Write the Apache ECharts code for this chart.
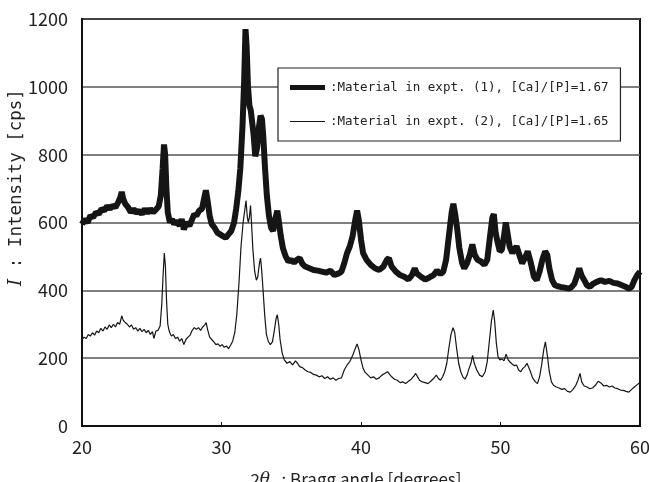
<!DOCTYPE html>
<html>
<head>
<meta charset="utf-8">
<script src="https://cdn.jsdelivr.net/npm/echarts@6/dist/echarts.min.js"></script>
<style>
  html, body { margin: 0; padding: 0; background: #fff; }
  #xrd { width: 649px; height: 482px; }
</style>
</head>
<body>
<div id="xrd"></div>
<script>
// 2θ [deg], intensity [cps]
const expt1 = [
  [20.0, 595], [20.2, 610], [20.4, 600], [20.6, 620], [20.8, 615], [21.0, 630], [21.2, 625], [21.4, 640],
  [21.6, 635], [21.8, 648], [22.0, 640], [22.2, 650], [22.4, 645], [22.6, 660], [22.75, 675], [22.85, 690],
  [22.95, 670], [23.1, 655], [23.3, 645], [23.5, 630], [23.7, 640], [23.9, 628], [24.1, 635], [24.3, 625],
  [24.5, 640], [24.7, 628], [24.9, 640], [25.1, 630], [25.3, 638], [25.5, 648], [25.65, 680], [25.78, 760],
  [25.88, 830], [25.96, 800], [26.05, 700], [26.15, 630], [26.3, 600], [26.45, 610], [26.6, 595], [26.8, 605],
  [27.0, 590], [27.15, 610], [27.3, 580], [27.5, 600], [27.7, 590], [27.9, 610], [28.05, 625], [28.2, 620],
  [28.4, 635], [28.6, 640], [28.75, 670], [28.88, 695], [29.0, 665], [29.15, 620], [29.3, 595], [29.5, 585],
  [29.7, 570], [29.9, 565], [30.1, 560], [30.3, 555], [30.5, 565], [30.7, 575], [30.9, 600], [31.05, 640],
  [31.2, 690], [31.35, 760], [31.5, 880], [31.62, 1010], [31.72, 1170], [31.8, 1120], [31.9, 1000], [32.0, 945],
  [32.1, 930], [32.2, 895], [32.3, 860], [32.42, 795], [32.55, 820], [32.68, 880], [32.8, 915], [32.9, 905],
  [33.0, 850], [33.12, 760], [33.25, 680], [33.4, 620], [33.55, 585], [33.7, 575], [33.85, 610], [34.0, 635],
  [34.12, 600], [34.25, 560], [34.4, 525], [34.6, 500], [34.8, 485], [35.0, 490], [35.2, 482], [35.4, 490],
  [35.6, 495], [35.8, 478], [36.0, 470], [36.3, 465], [36.6, 460], [36.9, 458], [37.2, 455], [37.5, 452],
  [37.8, 458], [38.1, 445], [38.4, 450], [38.6, 455], [38.8, 480], [39.0, 510], [39.2, 530], [39.4, 560],
  [39.6, 610], [39.72, 635], [39.85, 605], [40.0, 550], [40.15, 510], [40.4, 490], [40.7, 475], [41.0, 465],
  [41.3, 460], [41.6, 470], [41.85, 490], [42.0, 495], [42.2, 470], [42.5, 455], [42.8, 445], [43.1, 440],
  [43.4, 432], [43.65, 445], [43.85, 465], [44.0, 450], [44.3, 440], [44.6, 432], [44.9, 438], [45.2, 445],
  [45.45, 458], [45.7, 448], [45.9, 455], [46.1, 490], [46.3, 560], [46.5, 630], [46.62, 655], [46.75, 625],
  [46.9, 580], [47.05, 525], [47.25, 480], [47.4, 465], [47.6, 480], [47.8, 505], [47.98, 535], [48.15, 505],
  [48.35, 490], [48.6, 485], [48.85, 475], [49.05, 490], [49.25, 560], [49.42, 615], [49.52, 625], [49.65, 570],
  [49.8, 540], [49.95, 515], [50.1, 520], [50.25, 560], [50.38, 600], [50.5, 570], [50.65, 530], [50.85, 510],
  [51.0, 520], [51.15, 530], [51.35, 505], [51.55, 480], [51.75, 495], [51.95, 515], [52.15, 485], [52.4, 440],
  [52.6, 430], [52.8, 455], [53.0, 490], [53.2, 515], [53.35, 505], [53.5, 465], [53.7, 430], [53.9, 415],
  [54.1, 412], [54.3, 410], [54.6, 408], [54.9, 405], [55.1, 410], [55.3, 420], [55.5, 445], [55.65, 465],
  [55.8, 445], [56.0, 430], [56.2, 415], [56.4, 410], [56.6, 418], [56.9, 425], [57.2, 430], [57.5, 425],
  [57.8, 428], [58.1, 422], [58.4, 420], [58.7, 415], [59.0, 410], [59.2, 405], [59.4, 410], [59.6, 430],
  [59.8, 445], [60.0, 455]
];

const expt2 = [
  [20.0, 255], [20.15, 262], [20.3, 258], [20.45, 270], [20.6, 265], [20.75, 275], [20.9, 268], [21.05, 280],
  [21.2, 275], [21.35, 288], [21.5, 280], [21.65, 292], [21.8, 285], [21.95, 298], [22.1, 290], [22.25, 300],
  [22.4, 292], [22.55, 305], [22.7, 300], [22.85, 325], [22.95, 312], [23.1, 305], [23.25, 300], [23.4, 292],
  [23.55, 298], [23.7, 285], [23.85, 290], [24.0, 280], [24.15, 288], [24.3, 278], [24.45, 285], [24.6, 275],
  [24.75, 282], [24.9, 270], [25.05, 278], [25.15, 258], [25.3, 280], [25.45, 282], [25.6, 295], [25.72, 360],
  [25.82, 450], [25.9, 510], [25.98, 470], [26.06, 370], [26.15, 300], [26.25, 280], [26.4, 265], [26.55, 270],
  [26.7, 258], [26.85, 262], [27.0, 250], [27.15, 258], [27.3, 240], [27.45, 255], [27.6, 262], [27.75, 268],
  [27.9, 282], [28.05, 290], [28.2, 285], [28.35, 290], [28.5, 282], [28.65, 292], [28.8, 298], [28.9, 305],
  [29.0, 285], [29.15, 262], [29.3, 255], [29.45, 248], [29.6, 240], [29.75, 242], [29.9, 235], [30.05, 240],
  [30.2, 232], [30.35, 236], [30.5, 228], [30.65, 238], [30.8, 250], [30.95, 275], [31.1, 330], [31.25, 420],
  [31.4, 530], [31.55, 600], [31.68, 640], [31.76, 665], [31.84, 620], [31.92, 600], [32.0, 615], [32.08, 650],
  [32.15, 600], [32.25, 520], [32.38, 455], [32.5, 430], [32.6, 440], [32.72, 480], [32.8, 495], [32.88, 460],
  [32.98, 400], [33.1, 325], [33.22, 270], [33.35, 250], [33.5, 240], [33.65, 248], [33.8, 285], [33.92, 318],
  [34.0, 328], [34.1, 300], [34.2, 255], [34.35, 215], [34.5, 195], [34.7, 185], [34.9, 190], [35.1, 180],
  [35.3, 192], [35.45, 185], [35.6, 175], [35.8, 172], [36.0, 165], [36.2, 160], [36.4, 158], [36.6, 152],
  [36.8, 150], [37.0, 145], [37.2, 148], [37.4, 140], [37.6, 145], [37.8, 138], [38.0, 142], [38.2, 135],
  [38.4, 140], [38.6, 142], [38.8, 165], [39.0, 180], [39.2, 190], [39.4, 208], [39.58, 228], [39.72, 242],
  [39.85, 225], [40.0, 195], [40.15, 170], [40.3, 158], [40.5, 150], [40.7, 142], [40.9, 145], [41.1, 138],
  [41.3, 142], [41.5, 150], [41.7, 155], [41.9, 160], [42.05, 152], [42.2, 145], [42.4, 138], [42.6, 135],
  [42.8, 128], [43.0, 130], [43.2, 125], [43.4, 132], [43.6, 138], [43.8, 148], [43.92, 155], [44.05, 145],
  [44.2, 135], [44.4, 130], [44.6, 128], [44.8, 125], [45.0, 132], [45.2, 140], [45.4, 150], [45.55, 140],
  [45.7, 135], [45.85, 145], [46.0, 160], [46.15, 185], [46.3, 230], [46.45, 270], [46.6, 290], [46.72, 275],
  [46.85, 230], [47.0, 185], [47.15, 160], [47.3, 145], [47.45, 138], [47.6, 150], [47.75, 170], [47.88, 185],
  [48.0, 208], [48.12, 185], [48.3, 165], [48.5, 150], [48.7, 145], [48.9, 160], [49.05, 190], [49.2, 250],
  [49.35, 310], [49.48, 342], [49.58, 310], [49.7, 245], [49.82, 205], [49.95, 195], [50.1, 198], [50.25, 192],
  [50.4, 212], [50.55, 195], [50.7, 188], [50.85, 182], [51.0, 178], [51.15, 180], [51.3, 165], [51.45, 160],
  [51.6, 170], [51.75, 175], [51.9, 185], [52.0, 188], [52.15, 160], [52.3, 142], [52.5, 130], [52.65, 125],
  [52.8, 145], [52.95, 180], [53.1, 225], [53.22, 248], [53.35, 210], [53.5, 160], [53.65, 130], [53.8, 120],
  [54.0, 115], [54.2, 112], [54.4, 108], [54.6, 110], [54.8, 102], [55.0, 100], [55.2, 108], [55.4, 120],
  [55.55, 135], [55.7, 155], [55.82, 130], [56.0, 118], [56.2, 115], [56.4, 110], [56.6, 112], [56.8, 120],
  [57.0, 132], [57.1, 136], [57.25, 125], [57.4, 118], [57.6, 120], [57.8, 115], [58.0, 118], [58.2, 112],
  [58.4, 110], [58.6, 106], [58.8, 105], [59.0, 102], [59.2, 100], [59.4, 108], [59.6, 115], [59.8, 122],
  [60.0, 128]
];

const seriesNames = [
  ':Material in expt. (1), [Ca]/[P]=1.67',
  ':Material in expt. (2), [Ca]/[P]=1.65'
];

const FONT = '"Noto Sans CJK JP", "Noto Sans", sans-serif';
const MONO = '"DejaVu Sans Mono", "Liberation Mono", monospace';

const chart = echarts.init(document.getElementById('xrd'));

const option = {
  animation: false,
  backgroundColor: '#fff',
  textStyle: { fontFamily: FONT, color: '#222' },
  grid: {
    left: 82, right: 9, top: 19, bottom: 56,
    outerBoundsMode: 'none',
    containLabel: false,
    show: true, borderColor: '#111', borderWidth: 2
  },
  legend: {
    orient: 'vertical',
    left: 278,
    top: 68,
    padding: [13, 12, 13, 12],
    itemGap: 21,
    itemWidth: 35,
    itemHeight: 14,
    backgroundColor: '#fff',
    borderColor: '#222',
    borderWidth: 1.2,
    borderRadius: 0,
    textStyle: { fontFamily: MONO, fontSize: 12.5, color: '#222' },
    data: [
      { name: seriesNames[0], icon: 'path://M0,0H35V5H0Z' },
      { name: seriesNames[1], icon: 'path://M0,0H35V1.2H0Z' }
    ]
  },
  xAxis: {
    type: 'value',
    min: 20, max: 60, interval: 10,
    name: '{n|2}{t|θ}   : Bragg angle [degrees]',
    nameLocation: 'middle',
    nameGap: 45,
    nameMoveOverlap: false,
    nameTextStyle: {
      fontSize: 17,
      padding: [0, 10, 0, 0],
      rich: {
        n: { fontSize: 17, fontFamily: FONT, color: '#222' },
        t: { fontSize: 17, fontStyle: 'italic', fontFamily: 'DejaVu Serif', color: '#222' }
      }
    },
    axisLine: { lineStyle: { color: '#111', width: 2 } },
    axisTick: { inside: true, length: 4, lineStyle: { color: '#111' } },
    axisLabel: { fontSize: 18, margin: 12, color: '#222', formatter: v => String(v) },
    splitLine: { show: false }
  },
  yAxis: {
    type: 'value',
    min: 0, max: 1200, interval: 200,
    name: '{i|I}{s| : Intensity [cps]}',
    nameLocation: 'middle',
    nameGap: 57,
    nameMoveOverlap: false,
    nameRotate: 90,
    nameTextStyle: {
      fontSize: 17,
      padding: [0, 0, 0, 70],
      rich: {
        i: { fontSize: 18, fontStyle: 'italic', fontFamily: 'DejaVu Serif', color: '#222' },
        s: { fontSize: 17.5, fontFamily: MONO, color: '#222' }
      }
    },
    axisLine: { show: true, lineStyle: { color: '#111', width: 2 } },
    axisTick: { show: false },
    axisLabel: { fontSize: 18, margin: 14, color: '#222', formatter: v => String(v) },
    splitLine: { show: true, lineStyle: { color: '#555', width: 1.5 } }
  },
  series: [
    {
      name: seriesNames[0],
      type: 'line',
      data: expt1,
      symbol: 'none',
      lineStyle: { color: '#151515', width: 6 },
      itemStyle: { color: '#151515' },
      z: 3
    },
    {
      name: seriesNames[1],
      type: 'line',
      data: expt2,
      symbol: 'none',
      lineStyle: { color: '#151515', width: 1.2 },
      itemStyle: { color: '#151515' },
      z: 3
    }
  ]
};

chart.setOption(option);
</script>
</body>
</html>
